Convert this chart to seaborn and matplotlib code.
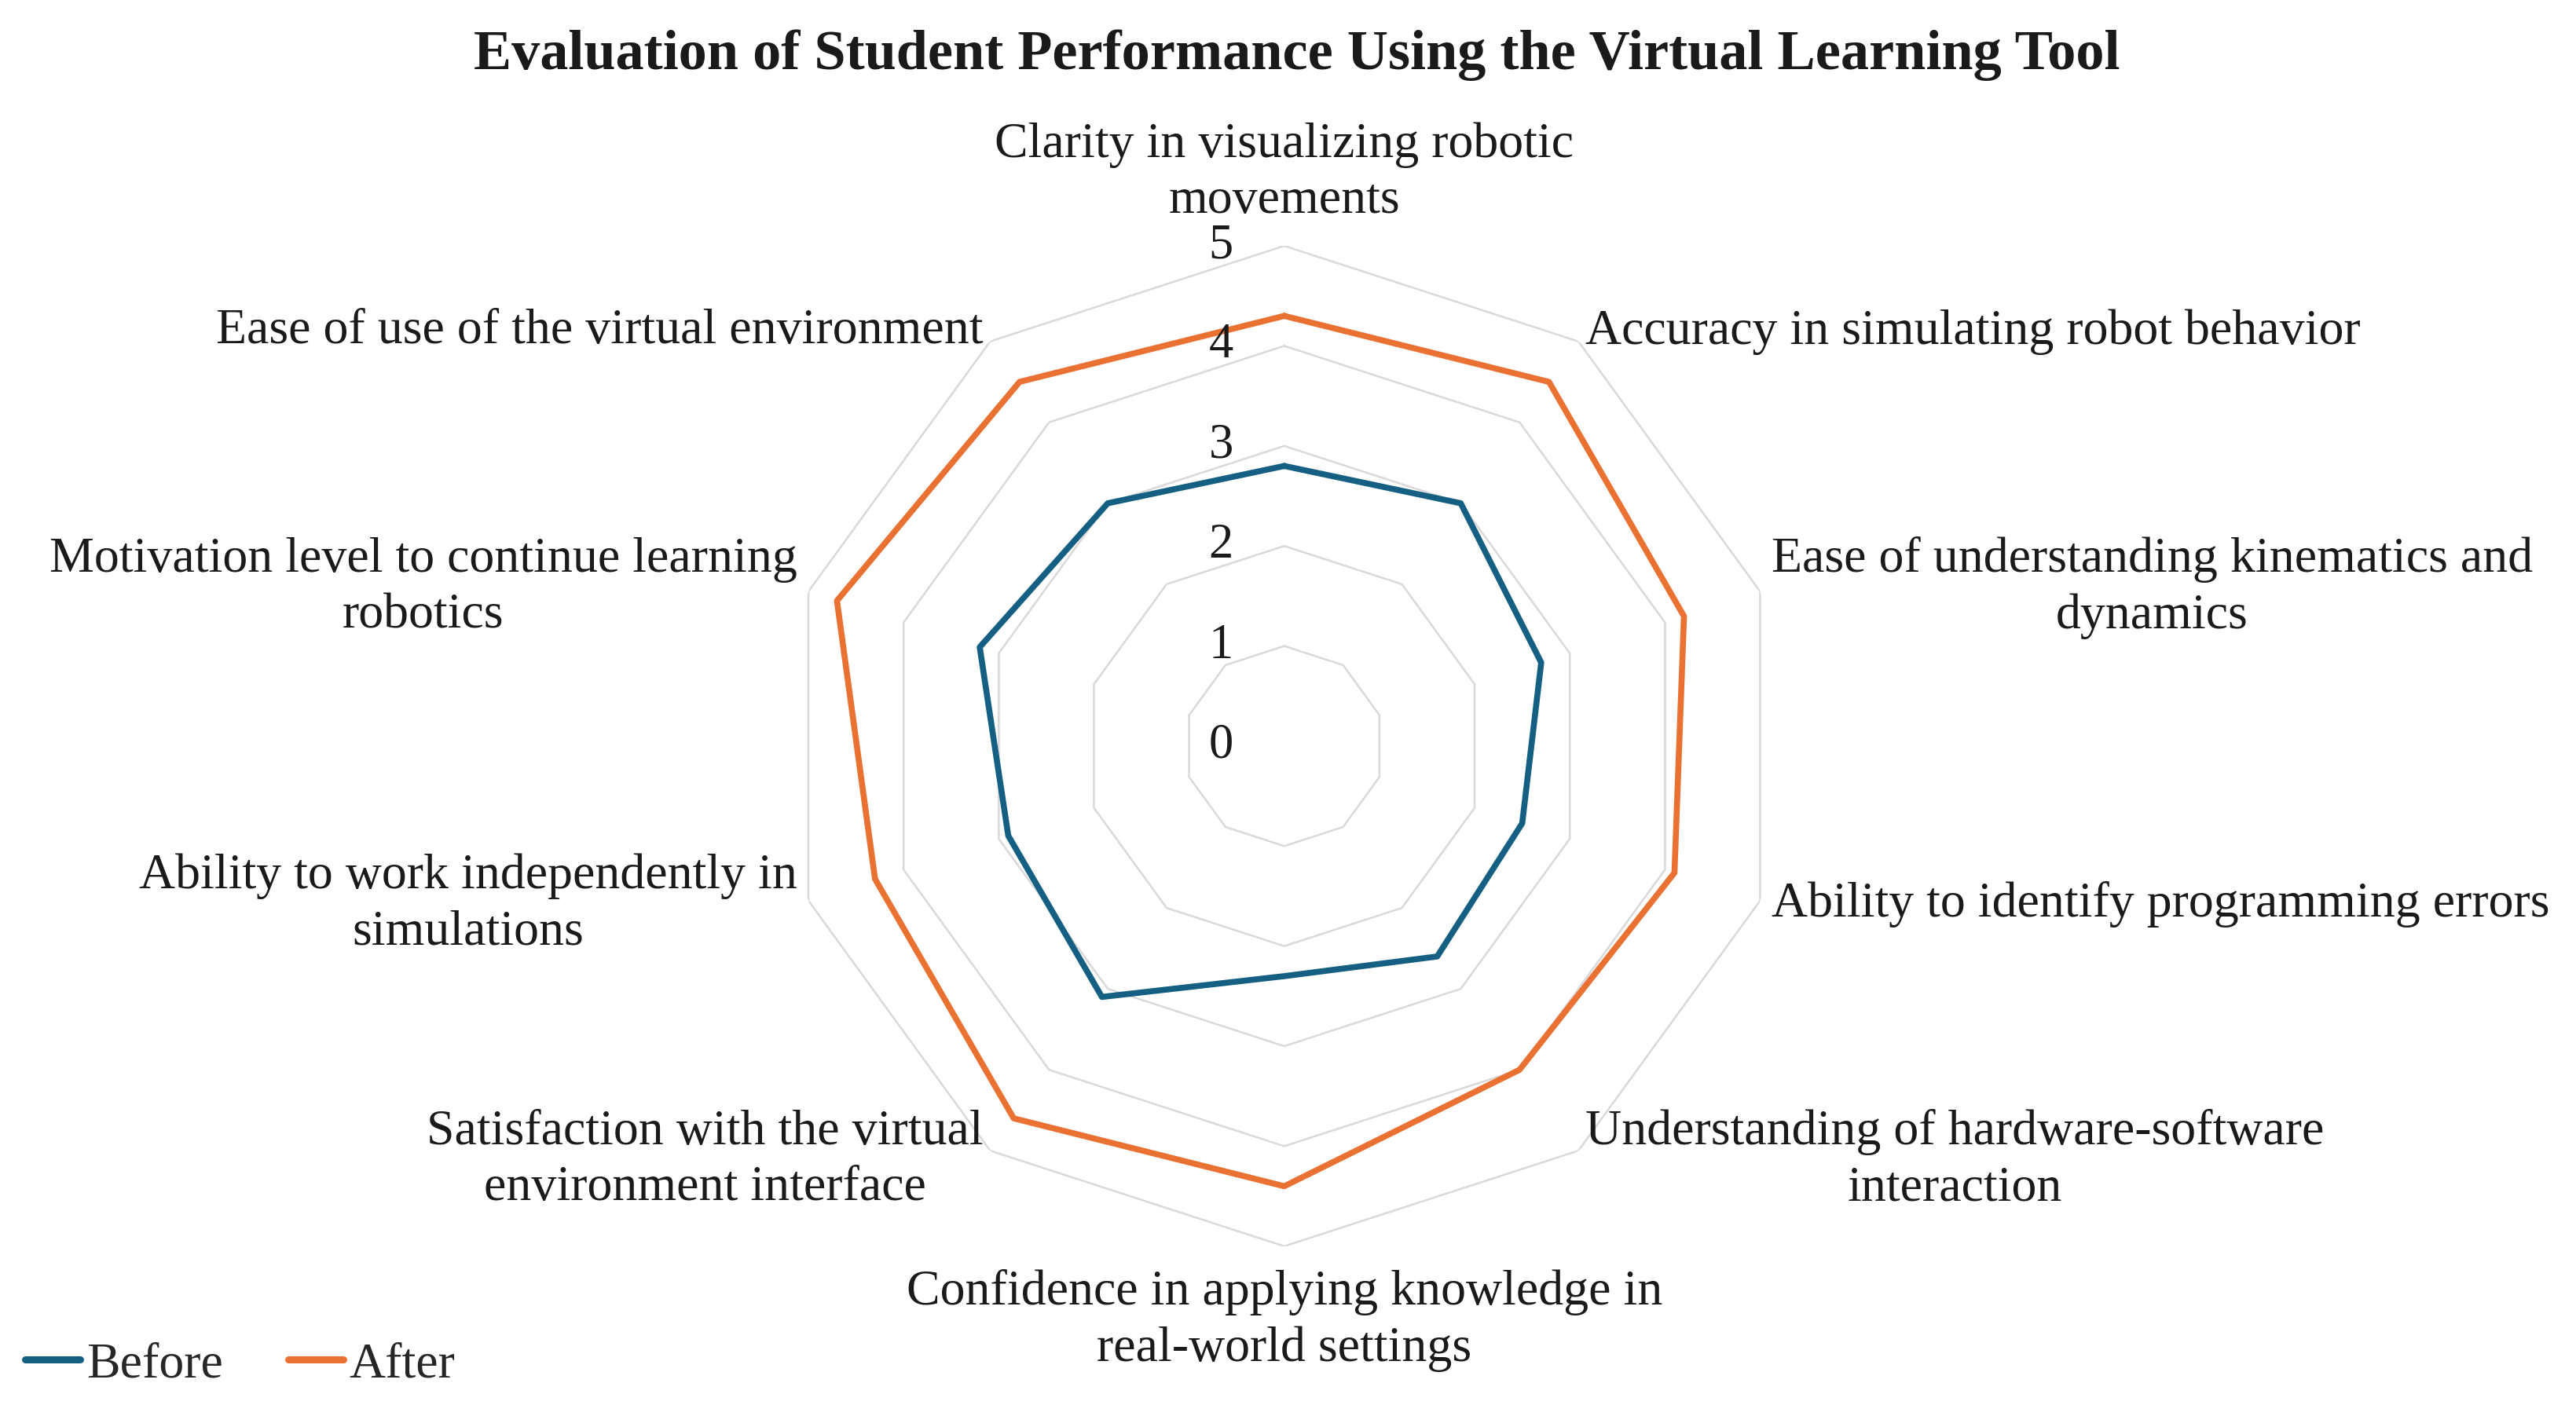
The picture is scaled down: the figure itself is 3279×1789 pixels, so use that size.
import numpy as np
import pandas as pd
import seaborn as sns
import matplotlib
matplotlib.use('Agg')
import matplotlib.pyplot as plt

# chart data, clockwise from the top
categories = [
    'Clarity in visualizing robotic\nmovements',
    'Accuracy in simulating robot behavior',
    'Ease of understanding kinematics and\ndynamics',
    'Ability to identify programming errors',
    'Understanding of hardware-software\ninteraction',
    'Confidence in applying knowledge in\nreal-world settings',
    'Satisfaction with the virtual\nenvironment interface',
    'Ability to work independently in\nsimulations',
    'Motivation level to continue learning\nrobotics',
    'Ease of use of the virtual environment',
]
before = [2.8, 3.0, 2.7, 2.5, 2.6, 2.3, 3.1, 2.9, 3.2, 3.0]
after = [4.3, 4.5, 4.2, 4.1, 4.0, 4.4, 4.6, 4.3, 4.7, 4.5]
series_names = ['Before', 'After']
ticks = [0, 1, 2, 3, 4, 5]
title = 'Evaluation of Student Performance Using the Virtual Learning Tool'

sns.set_theme(style='white')
plt.rcParams['font.family'] = ['Liberation Serif', 'DejaVu Serif']

n = len(categories)
angles = np.linspace(0, 2 * np.pi, n, endpoint=False)
angles_closed = np.append(angles, 2 * np.pi)

# long table for seaborn, closing each loop
rows = []
for name, vals in zip(series_names, [before, after]):
    for a, v in zip(angles_closed, vals + vals[:1]):
        rows.append({'angle': a, 'value': v, 'series': name})
df = pd.DataFrame(rows)

fig = plt.figure(figsize=(32.79, 17.89), dpi=100)
ax = fig.add_axes([0.3043, 0.113, 0.3885, 0.712], projection='polar')
ax.set_theta_zero_location('N')
ax.set_theta_direction(-1)
ax.set_ylim(0, 5)
ax.grid(False)
ax.spines['polar'].set_visible(False)
ax.set_xticks([])
ax.set_yticks([])

# polygon gridlines
for r in ticks[1:]:
    ax.plot(angles_closed, [r] * (n + 1), color='#d9d9d9', lw=1.8, zorder=0)

sns.lineplot(data=df, x='angle', y='value', hue='series', sort=False,
             estimator=None, palette=['#156082', '#E97132'], ax=ax)
for line in ax.get_lines()[len(ticks) - 1:]:
    line.set_linewidth(5.5)
ax.set_xlabel('')
ax.set_ylabel('')
handles, labels = ax.get_legend_handles_labels()
ax.get_legend().remove()

# radial tick labels
for t in ticks:
    ax.annotate(str(t), xy=(0, t), xytext=(-58, 0), textcoords='offset points',
                ha='center', va='center', fontsize=45, color='#1a1a1a')

# category labels
lab_kw = dict(multialignment='center', fontsize=46, color='#1a1a1a',
              clip_on=False, linespacing=1.3)
for a, lab in zip(angles, categories):
    deg = np.degrees(a)
    if deg == 0:
        ax.text(a, 5.22, lab, ha='center', va='bottom', **lab_kw)
    elif deg == 180:
        ax.text(a, 5.23, lab, ha='center', va='top', **lab_kw)
    elif deg < 180:
        ax.text(a, 5.12, lab, ha='left', va='center', **lab_kw)
    else:
        ax.text(a, 5.12, lab, ha='right', va='center', **lab_kw)

fig.text(0.5035, 1 - 70 / 1789, title, ha='center', va='center',
         fontsize=52, fontweight='bold', color='#1a1a1a')

for h in handles:
    h.set_linewidth(6.5)
fig.legend(handles, labels, loc='lower left', bbox_to_anchor=(0.0, -0.006),
           ncol=2, frameon=False, fontsize=46, handlelength=1.1,
           handletextpad=0.12, columnspacing=1.3, borderaxespad=0.1)

fig.savefig('out.png', dpi=100, facecolor='white')
